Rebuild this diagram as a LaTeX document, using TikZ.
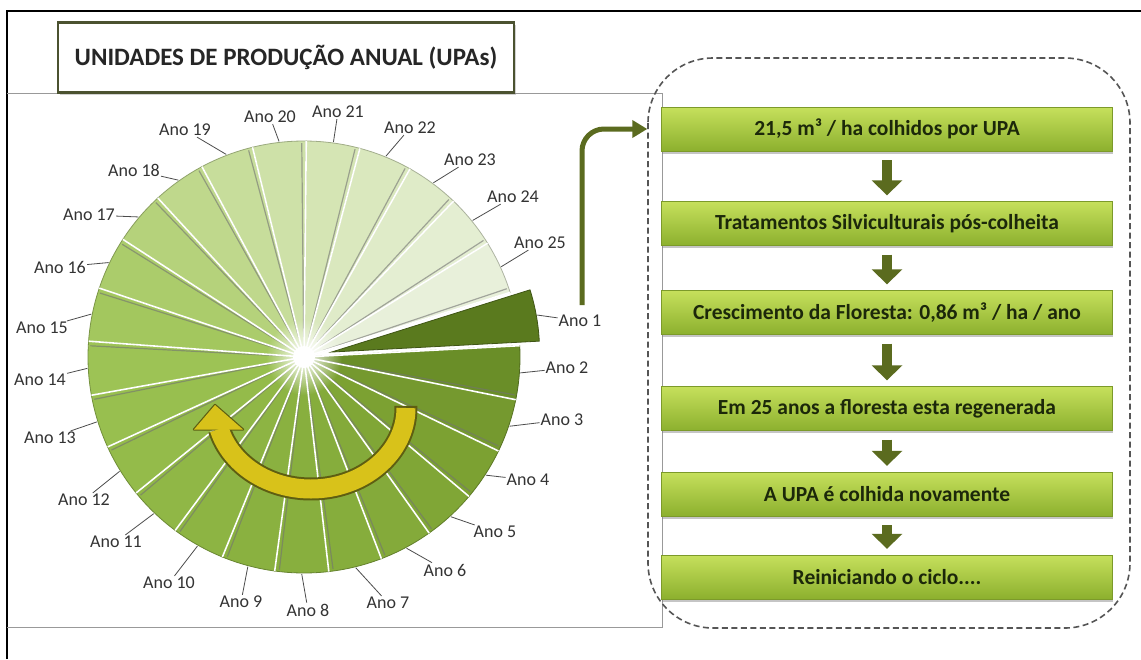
\documentclass[tikz,border=0pt]{standalone}
\usepackage{fontspec}
\setmainfont{Carlito}
\usetikzlibrary{arrows.meta,fadings,shadows,calc}
\tikzfading[name=glowfade, inner color=transparent!0, outer color=transparent!100]
\definecolor{arrowolive}{HTML}{5B6B1F}
\definecolor{arrowyellow}{HTML}{D8C21A}
\definecolor{arrowdark}{HTML}{5E5E12}
\definecolor{boxtop}{HTML}{C6E05C}
\definecolor{boxbot}{HTML}{8CB02E}
\definecolor{boxedge}{HTML}{7C9A2A}
\definecolor{boxtext}{HTML}{1C280A}
\definecolor{titleedge}{HTML}{4B5230}
\definecolor{dashcol}{HTML}{555555}
\definecolor{ano1}{HTML}{5A7A1E}
\begin{document}
\begin{tikzpicture}[x=1pt,y=-1pt,
  lbl/.style={font=\fontsize{18}{20}\selectfont, text=black!80, inner sep=1pt},
  leader/.style={draw=black!70, line width=0.8pt},
  stepbox/.style={minimum width=451pt, minimum height=44pt, inner sep=0pt,
    top color=boxtop, bottom color=boxbot, draw=boxedge, line width=0.4pt,
    drop shadow={opacity=0.45, shadow xshift=0pt, shadow yshift=-2.5pt},
    font=\bfseries\fontsize{21.5}{24}\selectfont, text=boxtext},
  flow/.style={draw=arrowolive, line width=10pt, -{Triangle[width=30pt,length=15pt]},
    shorten <=9pt, shorten >=6pt},
  conn/.style={draw=arrowolive, line width=5pt, rounded corners=22pt,
    -{Triangle[width=17pt,length=15pt]}, shorten >=14pt},
  titlebox/.style={draw=titleedge, line width=2.5pt, fill=white,
    minimum width=456pt, minimum height=70pt, inner sep=0pt,
    drop shadow={opacity=0.35, shadow xshift=1.5pt, shadow yshift=-2pt},
    font=\bfseries\fontsize{25}{28}\selectfont, text=black!85},
  dashbox/.style={draw=dashcol, line width=1.6pt, dash pattern=on 6pt off 3.5pt,
    rounded corners=65pt},
]
\useasboundingbox (0,0) rectangle (1141,659);
\fill[white] (0,0) rectangle (1141,659);

% outer frame
\draw[line width=1.5pt] (7,659) -- (7,11) -- (1141,11);
% chart area
\draw[black!40, line width=1pt] (7,93) -- (662,93) -- (662,627) -- (7,627);

% title
\node[titlebox] (title) at (286,57.5) {UNIDADES DE PRODUÇÃO ANUAL (UPAs)};

% pie
\coordinate (c) at (304,357);
\foreach \k/\col in {2/6A8E28,3/75992F,4/7CA132,5/80A636,6/84AA3A,7/86AD3C,8/88AF3E,
  9/8AB140,10/8DB443,11/90B746,12/94BB4A,13/98BF4F,14/9DC355,15/A3C75E,16/ABCC6B,
  17/B5D27B,18/BFD88C,19/C7DD9B,20/CEE1A8,21/D5E5B4,22/DAE8BE,23/DFEBC8,24/E4EED2,25/E8F0DA}{
  \definecolor{slc}{HTML}{\col}
  \pgfmathsetmacro{\s}{-(3-(\k-1)*14.4)}
  \pgfmathsetmacro{\e}{\s-14.4}
  \filldraw[fill=slc, draw=slc!75!black, line width=0.8pt]
    (c) -- ++(\s:216) arc[start angle=\s, end angle=\e, radius=216] -- cycle;
}
\foreach \k in {2,...,25}{
  \pgfmathsetmacro{\s}{-(3-(\k-1)*14.4)}
  \draw[black!55, opacity=0.6, line width=1.2pt] ($(c)+(\s-1.6:20)$) -- ($(c)+(\s-1.2:214)$);
  \draw[white, line width=1.6pt] (c) -- ++(\s:216);
}
\draw[white, line width=1.6pt] (c) -- ++(-3:216);
\fill[white, path fading=glowfade] (c) circle[radius=38];
\fill[white] (c) circle[radius=11];

% exploded slice Ano 1
\coordinate (c1) at ($(c)+(-10.2:28)$);
\filldraw[fill=ano1, draw=ano1!70!black, line width=0.8pt]
  (c1) -- ++(-3:208) arc[start angle=-3, end angle=-17.4, radius=208] -- cycle;

% labels
\foreach \k/\x/\y in {1/580/321,2/567/368,3/562/420,4/528/480,5/495/532,6/445/570,
  7/388/603,8/308/610,9/241/602,10/169/583,11/116/542,12/84/500,13/50/438,
  14/40/380,15/42/328,16/60/267,17/89/215,18/134/170,19/185/130,20/270/117,
  21/338/112,22/410/128,23/470/160,24/513/197,25/540/243}{
  \node[lbl] (l\k) at (\x,\y) {Ano \k};
}
\foreach \k in {2,...,25}{
  \pgfmathsetmacro{\m}{-(10.2-(\k-1)*14.4)}
  \coordinate (e\k) at ($(c)+(\m:217)$);
  \draw[leader] (e\k) -- (l\k);
}
\coordinate (e1) at ($(c1)+(-10.2:209)$);
\draw[leader] (e1) -- (l1);

% yellow circular arrow
\draw[line width=23pt, draw=arrowdark] (311,408) ++(-1.5:95 and 81) arc[start angle=-1.5, end angle=165, x radius=95, y radius=81];
\filldraw[fill=arrowyellow, draw=arrowdark, line width=2.4pt, line join=round]
  (194,429.5) -- (215,405) -- (243,429.5) -- cycle;
\draw[line width=19pt, draw=arrowyellow] (406,408) arc[start angle=0, end angle=165, x radius=95, y radius=81];
\fill[arrowyellow] (194,429.5) -- (215,405) -- (243,429.5) -- cycle;

% right panel
\draw[dashbox] (648,58) rectangle (1130,628);
\node[stepbox] (b1) at (887,129) {21,5 m³ / ha colhidos por UPA};
\node[stepbox] (b2) at (887,223.5) {Tratamentos Silviculturais pós-colheita};
\node[stepbox] (b3) at (887,312.5) {Crescimento da Floresta: 0,86 m³ / ha / ano};
\node[stepbox] (b4) at (887,408.5) {Em 25 anos a floresta esta regenerada};
\node[stepbox] (b5) at (887,494) {A UPA é colhida novamente};
\node[stepbox] (b6) at (887,577) {Reiniciando o ciclo....};
\draw[flow] (b1) -- (b2);
\draw[flow] (b2) -- (b3);
\draw[flow] (b3) -- (b4);
\draw[flow] (b4) -- (b5);
\draw[flow] (b5) -- (b6);

% connector from pie to panel
\coordinate (s1) at (582,305);
\draw[conn] (s1) |- (b1);
\end{tikzpicture}
\end{document}
